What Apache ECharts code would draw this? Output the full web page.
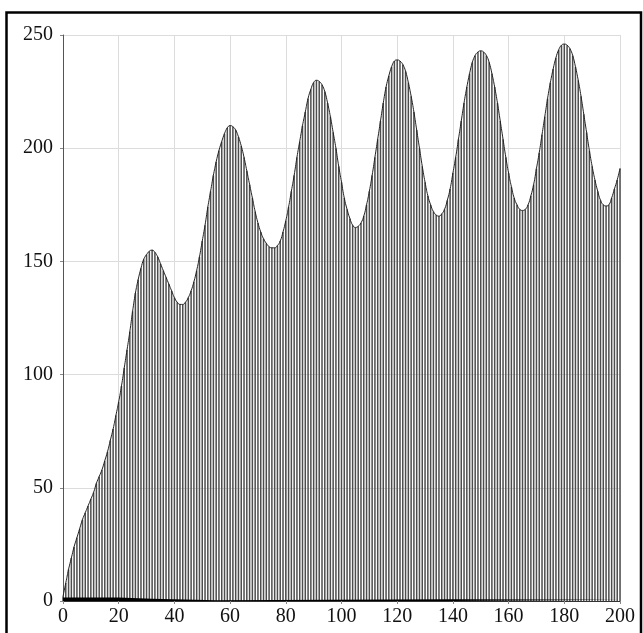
<!DOCTYPE html>
<html>
<head>
<meta charset="utf-8">
<script src="https://cdn.jsdelivr.net/npm/echarts@6/dist/echarts.min.js"></script>
<style>html,body{margin:0;padding:0;background:#fff;}#c{width:643px;height:633px;}</style>
</head>
<body>
<div id="c"></div>
<script>
// Envelope / bar heights at x = 0..200
var values = [
  2, 8, 14, 19, 24, 28, 32, 36, 39, 42,
  45, 48, 52, 55, 58, 62, 66, 71, 76, 82,
  88, 95, 103, 111, 119, 128, 136, 142, 147, 151,
  153, 154.5, 155, 154, 152, 149, 146, 143, 140, 137,
  134, 132, 131, 131, 132, 134, 137, 141, 146, 152,
  159, 166, 174, 181, 188, 194, 199, 203, 206.5, 209,
  210, 209.5, 208, 205, 201, 196, 190, 184, 178, 172,
  167, 163, 160, 158, 156.5, 156, 156, 157, 159, 163,
  168, 174, 181, 188, 196, 203, 210, 216, 222, 226,
  229, 230, 229.5, 228, 225, 220, 214, 207, 200, 192,
  185, 178, 173, 169, 166, 165, 165.5, 167, 170, 175,
  181, 188, 196, 204, 212, 220, 227, 232, 236, 238.5,
  239, 238.5, 237, 234, 229, 223, 216, 208, 200, 192,
  185, 179, 175, 172, 170.5, 170, 171, 173, 177, 182,
  189, 196, 204, 212, 220, 227, 233, 238, 241, 242.5,
  243, 242.5, 241, 238, 233, 227, 220, 212, 204, 196,
  189, 183, 178, 175, 173, 172.5, 173, 175, 179, 184,
  191, 198, 206, 214, 222, 229, 235, 240, 243.5, 245.5,
  246, 245.5, 244, 241, 236, 230, 223, 215, 207, 199,
  192, 186, 181, 177, 175, 174.5, 175, 178, 182, 186,
  191
];
// Small baseline series (x, y)
var baseX = [0, 20, 20, 32, 32, 55, 55, 140, 140, 200];
var baseY = [1.5, 1.5, 1.0, 1.0, 0.3, 0.3, 0.8, 0.8, 0.5, 0.5];
var xTicks = [0, 20, 40, 60, 80, 100, 120, 140, 160, 180, 200];
var yTicks = [0, 50, 100, 150, 200, 250];

var barData = values.map(function (v, i) { return [i, v]; });
var baseData = baseX.map(function (x, i) { return [x, baseY[i]]; });

var chart = echarts.init(document.getElementById('c'), null, {renderer: 'canvas'});
var font = '"Liberation Serif", "DejaVu Serif", serif';
chart.setOption({
  animation: false,
  backgroundColor: '#fff',
  graphic: [{
    type: 'rect',
    shape: {x: 6.5, y: 12.5, width: 634.5, height: 640},
    style: {fill: 'none', stroke: '#000', lineWidth: 2.5},
    silent: true, z: 100
  }],
  grid: {left: 63, right: 23, top: 35, bottom: 32, containLabel: false},
  xAxis: {
    type: 'value', min: xTicks[0], max: xTicks[xTicks.length - 1], interval: 20,
    axisLine: {show: true, onZero: false, lineStyle: {color: '#333', width: 1}},
    axisTick: {show: true, length: 3, lineStyle: {color: '#888'}},
    axisLabel: {color: '#111', fontFamily: font, fontSize: 20, margin: 6},
    splitLine: {show: true, lineStyle: {color: '#dcdcdc', width: 1}}
  },
  yAxis: {
    type: 'value', min: yTicks[0], max: yTicks[yTicks.length - 1], interval: 50,
    axisLine: {show: true, lineStyle: {color: '#555', width: 1}},
    axisTick: {show: true, length: 3, lineStyle: {color: '#888'}},
    axisLabel: {color: '#111', fontFamily: font, fontSize: 20, margin: 10},
    splitLine: {show: true, lineStyle: {color: '#dcdcdc', width: 1}}
  },
  series: [
    {
      type: 'bar', data: barData, barWidth: 1.5,
      itemStyle: {color: '#4d4d4d'}, silent: true, z: 2
    },
    {
      type: 'line', data: barData, smooth: true, symbol: 'none',
      lineStyle: {color: '#222', width: 1}, silent: true, z: 3
    },
    {
      type: 'line', data: baseData, symbol: 'none',
      lineStyle: {width: 0},
      areaStyle: {color: '#000', opacity: 1, origin: 'start'},
      silent: true, z: 4
    }
  ]
});
</script>
</body>
</html>
